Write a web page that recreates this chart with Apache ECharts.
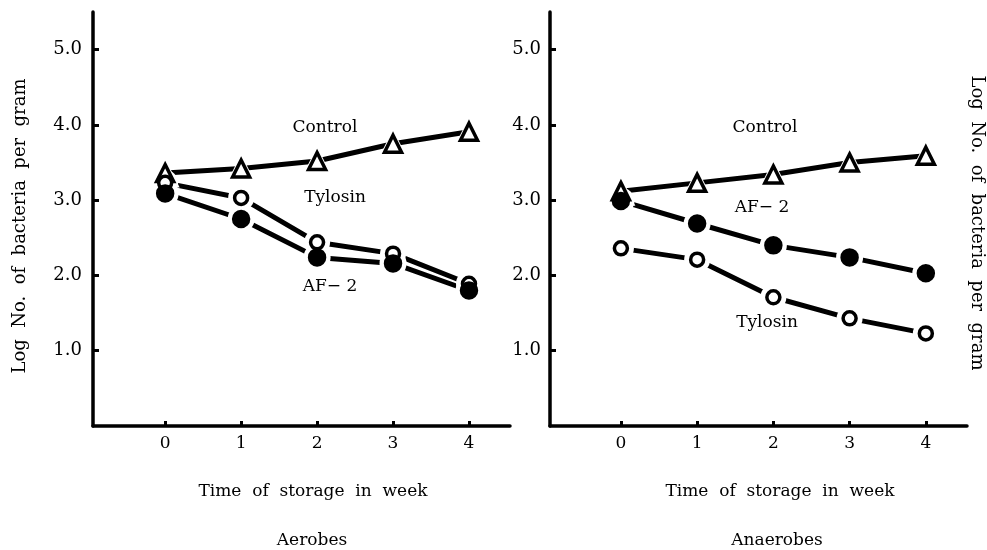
<!DOCTYPE html>
<html>
<head>
<meta charset="utf-8">
<script src="https://cdn.jsdelivr.net/npm/echarts@6/dist/echarts.min.js"></script>
<style>
  html, body { margin: 0; padding: 0; background: #fff; }
  #chart { width: 987px; height: 550px; }
</style>
</head>
<body>
<div id="chart"></div>
<script>
// 周数（横轴）
const weeks = [0, 1, 2, 3, 4]
const yTicks = [1, 2, 3, 4, 5]

// 好氧菌
const aerobesControl = [3.36, 3.42, 3.52, 3.75, 3.91]
const aerobesTylosin = [3.23, 3.03, 2.44, 2.29, 1.89]
const aerobesAF2 = [3.09, 2.75, 2.24, 2.16, 1.80]

// 厌氧菌
const anaerobesControl = [3.12, 3.23, 3.34, 3.50, 3.59]
const anaerobesAF2 = [2.99, 2.69, 2.40, 2.24, 2.03]
const anaerobesTylosin = [2.36, 2.21, 1.71, 1.43, 1.23]

const font = 'DejaVu Serif'
const pts = vals => weeks.map((w, i) => [w, vals[i]])

// 标记样式
const marks = {
  triangle: { symbol: 'triangle', size: 17, fill: '#fff', halo: 12 },
  open: { symbol: 'circle', size: 13, fill: '#fff', halo: 13 },
  filled: { symbol: 'circle', size: 15, fill: '#000', halo: 12 }
}

function axisX(idx, min) {
  return {
    type: 'value', gridIndex: idx, min: min, max: 4.54,
    axisLine: { onZero: false, lineStyle: { color: '#000', width: 3.5 } },
    axisTick: { inside: true, length: 5, customValues: weeks, lineStyle: { color: '#000', width: 3 } },
    axisLabel: { customValues: weeks, margin: 9, color: '#000', fontFamily: font, fontSize: 17 },
    splitLine: { show: false }
  }
}

function axisY(idx, margin) {
  return {
    type: 'value', gridIndex: idx, min: 0, max: 5.5,
    axisLine: { show: true, onZero: false, lineStyle: { color: '#000', width: 3.5 } },
    axisTick: { show: true, inside: true, length: 6, customValues: yTicks, lineStyle: { color: '#000', width: 3 } },
    axisLabel: { customValues: yTicks, margin: margin, color: '#000', fontFamily: font, fontSize: 18,
      formatter: v => v.toFixed(1) },
    splitLine: { show: false }
  }
}

// 一条曲线：线段 + 白色间隙(线系列的符号) + 标记
function curve(idx, vals, kind) {
  const m = marks[kind]
  return [
    {
      type: 'line', xAxisIndex: idx, yAxisIndex: idx, data: pts(vals), z: 2,
      showSymbol: false, lineStyle: { color: '#000', width: 5 }, silent: true
    },
    {
      type: 'line', xAxisIndex: idx, yAxisIndex: idx, data: pts(vals), z: 5,
      showSymbol: true, symbol: m.symbol, symbolSize: m.size + m.halo,
      lineStyle: { width: 0, opacity: 0 },
      itemStyle: { color: '#fff', borderWidth: 0, opacity: 1 }, silent: true
    },
    {
      type: 'scatter', xAxisIndex: idx, yAxisIndex: idx, data: pts(vals), z: 8,
      symbol: m.symbol, symbolSize: m.size,
      itemStyle: { color: m.fill, borderColor: '#000', borderWidth: 3.5, opacity: 1 }, silent: true
    }
  ]
}

function txt(text, x, y, rotation, size) {
  return {
    type: 'text', x: x, y: y, rotation: rotation || 0,
    style: { text: text, fill: '#000', font: (size || 17) + 'px "DejaVu Serif"', textAlign: 'center', textVerticalAlign: 'middle' }
  }
}

const chart = echarts.init(document.getElementById('chart'))
chart.setOption({
  animation: false,
  backgroundColor: '#fff',
  grid: [
    { left: 93, top: 12, width: 417, height: 414 },
    { left: 550, top: 12, width: 417, height: 414 }
  ],
  xAxis: [axisX(0, -0.95), axisX(1, -0.93)],
  yAxis: [axisY(0, 11), axisY(1, 9)],
  series: [
    ...curve(0, aerobesControl, 'triangle'),
    ...curve(0, aerobesTylosin, 'open'),
    ...curve(0, aerobesAF2, 'filled'),
    ...curve(1, anaerobesControl, 'triangle'),
    ...curve(1, anaerobesAF2, 'filled'),
    ...curve(1, anaerobesTylosin, 'open')
  ],
  graphic: [
    txt('Log  No.  of  bacteria  per  gram', 20, 226, Math.PI / 2, 18),
    txt('Log  No.  of  bacteria  per  gram', 977, 223, -Math.PI / 2, 18),
    txt('Time  of  storage  in  week', 313, 492),
    txt('Time  of  storage  in  week', 780, 492),
    txt('Aerobes', 312, 541),
    txt('Anaerobes', 777, 541),
    txt('Control', 325, 128),
    txt('Tylosin', 335, 198),
    txt('AF\u2212 2', 330, 287),
    txt('Control', 765, 128),
    txt('AF\u2212 2', 762, 208),
    txt('Tylosin', 767, 323)
  ]
})
</script>
</body>
</html>
